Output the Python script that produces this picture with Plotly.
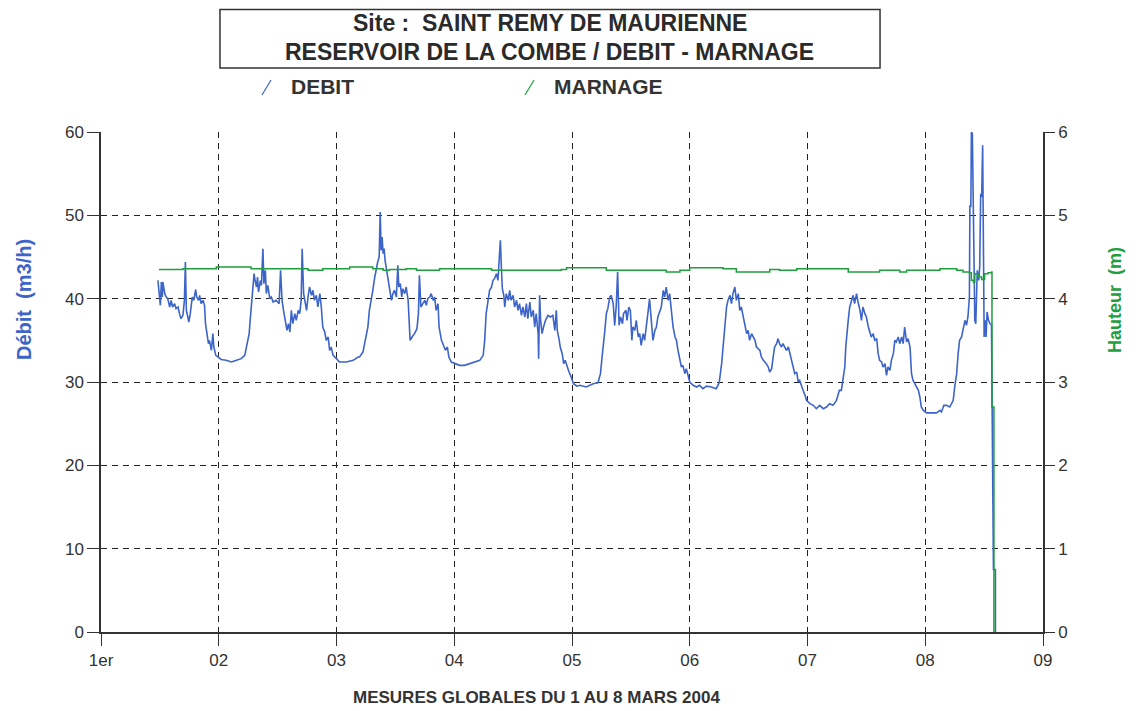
import plotly.graph_objects as go

# ---------------------------------------------------------------- data
# time in hours since 1 March 2004 00:00, debit in m3/h
h_j1 = [11.6, 11.8, 12.1, 12.3, 12.5, 12.6, 13.0, 13.3, 13.6, 14.0, 14.3, 14.6, 15.0, 15.3, 15.7, 16.0, 16.3, 16.7, 17.0, 17.2,
        17.4, 17.7, 17.9, 18.2, 18.6, 18.9, 19.3, 19.5, 19.9, 20.1, 20.4, 20.8, 21.1, 21.3, 21.6, 21.9, 22.1, 22.5, 22.8, 23.0,
        23.4, 23.8]
q_j1 = [42.2, 41.2, 39.2, 42.0, 40.2, 42.0, 40.6, 40.2, 40.0, 39.0, 39.8, 39.0, 39.4, 38.8, 39.0, 38.2, 37.6, 38.0, 39.8, 44.4,
        38.6, 37.8, 37.2, 38.2, 40.2, 39.8, 41.1, 40.2, 39.8, 40.4, 39.4, 39.8, 39.2, 37.0, 35.8, 34.6, 35.0, 33.8, 35.8, 34.2,
        33.2, 33.0]

h_j2 = [24.5, 25.5, 26.6, 27.6, 28.6, 29.3, 29.7, 30.2, 30.4, 30.7, 31.0, 31.2, 31.4, 31.7, 31.9, 32.1, 32.5, 32.7, 33.0, 33.2,
        33.5, 33.7, 34.0, 34.4, 34.7, 35.1, 35.7, 36.3, 36.6, 36.9, 37.2, 37.6, 37.9, 38.2, 38.5, 38.8, 39.1, 39.5, 39.8, 40.2,
        40.5, 40.8, 41.0, 41.3, 41.6, 41.9, 42.2, 42.5, 42.9, 43.2, 43.5, 43.9, 44.2, 44.6, 44.9, 45.2, 45.6, 45.9, 46.3, 46.6,
        46.9, 47.3]
q_j2 = [32.7, 32.6, 32.4, 32.6, 32.8, 33.2, 34.2, 35.8, 37.4, 39.8, 41.4, 43.0, 42.2, 41.4, 42.6, 40.8, 42.2, 41.6, 46.0, 41.8,
        43.4, 40.6, 41.6, 40.0, 40.2, 39.6, 39.8, 39.4, 43.4, 39.8, 38.6, 37.4, 36.2, 37.0, 36.0, 38.6, 37.0, 38.2, 37.4, 38.6,
        38.2, 39.8, 46.0, 40.6, 39.8, 38.6, 40.2, 41.4, 40.4, 41.0, 39.8, 40.4, 39.0, 40.6, 39.0, 36.6, 36.0, 35.0, 35.4, 33.8,
        34.2, 33.2]

h_j3 = [48.0, 48.6, 50.0, 51.4, 52.4, 52.7, 53.4, 53.9, 54.4, 54.7, 55.1, 55.4, 55.8, 56.1, 56.4, 56.7, 56.9, 57.1, 57.3, 57.5,
        57.7, 57.9, 58.1, 58.5, 58.8, 59.2, 59.5, 59.8, 60.2, 60.5, 60.7, 61.0, 61.3, 61.5, 61.9, 62.2, 62.6, 62.8, 63.0, 63.4,
        63.9, 64.4, 64.7, 64.9, 65.2, 65.6, 66.0, 66.3, 66.6, 67.0, 67.3, 67.7, 68.0, 68.3, 68.7, 68.9, 69.4, 69.8, 70.2, 70.6,
        70.9, 71.4]
q_j3 = [32.8, 32.4, 32.4, 32.6, 33.0, 33.0, 33.6, 35.0, 36.6, 38.6, 39.8, 41.0, 42.6, 43.8, 44.4, 45.0, 50.4, 45.8, 47.4, 45.4,
        46.0, 44.6, 43.8, 42.2, 41.4, 39.8, 40.6, 41.0, 40.2, 44.0, 41.4, 41.8, 40.2, 41.2, 40.6, 41.4, 39.8, 37.0, 35.0, 35.4,
        35.8, 36.4, 38.2, 42.8, 39.0, 39.4, 39.8, 39.2, 40.0, 40.2, 40.6, 39.8, 40.2, 38.6, 39.4, 36.6, 35.0, 34.4, 33.8, 34.2,
        33.0, 32.4]

h_j4 = [72.1, 73.1, 74.1, 75.1, 76.2, 77.2, 77.9, 78.2, 78.5, 78.9, 79.2, 79.6, 79.9, 80.2, 80.6, 80.9, 81.1, 81.4, 81.6, 81.8,
        82.1, 82.3, 82.6, 83.0, 83.3, 83.6, 84.0, 84.3, 84.7, 85.0, 85.3, 85.7, 86.0, 86.4, 86.7, 87.0, 87.4, 87.7, 88.1, 88.4,
        88.7, 89.1, 89.2, 89.4, 89.6, 89.9, 90.2, 90.6, 91.1, 91.6, 92.1, 92.5, 92.8, 93.0, 93.4, 93.6, 94.0, 94.3, 94.6, 95.0,
        95.4, 95.7]
q_j4 = [32.2, 32.0, 32.0, 32.2, 32.4, 32.6, 33.2, 35.0, 38.2, 39.8, 41.0, 41.4, 42.2, 42.4, 43.0, 42.2, 43.8, 47.0, 43.8, 41.2,
        40.4, 39.0, 40.6, 39.8, 41.0, 39.8, 40.4, 39.0, 39.8, 38.6, 39.4, 38.0, 39.0, 37.8, 39.4, 37.6, 39.6, 37.8, 38.6, 36.6,
        38.2, 35.8, 32.8, 40.4, 37.4, 35.8, 36.6, 37.4, 38.0, 37.8, 38.0, 36.2, 38.6, 36.2, 35.0, 34.2, 33.4, 32.2, 32.6, 31.8,
        31.2, 30.8]

h_j5 = [96.3, 97.0, 97.6, 98.9, 100.3, 101.3, 101.8, 102.2, 102.5, 102.7, 103.0, 103.3, 103.7, 104.0, 104.4, 104.7, 105.0,
        105.3, 105.6, 105.9, 106.3, 106.5, 107.0, 107.2, 107.6, 107.9, 108.2, 108.4, 108.8, 109.1, 109.5, 109.8, 110.1, 110.5,
        110.8, 111.2, 111.5, 111.8, 112.2, 112.5, 112.9, 113.2, 113.5, 113.9, 114.2, 114.6, 114.9, 115.2, 115.6, 115.9, 116.3,
        116.6, 117.0, 117.3, 117.6, 118.0, 118.3, 118.6, 119.0, 119.3, 119.7]
q_j5 = [29.8, 29.5, 29.6, 29.4, 29.8, 29.9, 31.0, 33.4, 35.8, 36.2, 38.2, 38.8, 40.2, 40.4, 39.4, 36.8, 39.0, 43.2, 36.8, 37.8,
        37.0, 38.2, 38.6, 37.4, 39.0, 38.6, 35.0, 36.6, 36.2, 37.4, 35.4, 35.8, 34.4, 35.8, 35.0, 36.6, 38.4, 40.0, 37.4, 35.0,
        36.2, 36.6, 37.8, 38.6, 39.0, 41.0, 40.2, 41.4, 39.8, 40.6, 38.6, 36.6, 35.4, 35.0, 33.8, 32.6, 31.8, 32.0, 31.0, 31.6,
        30.6]

h_j6 = [120.0, 120.7, 121.4, 122.0, 122.7, 123.4, 124.4, 125.4, 126.0, 126.5, 126.8, 127.1, 127.5, 127.8, 128.2, 128.5, 128.8,
        129.2, 129.5, 129.9, 130.2, 130.5, 130.9, 131.2, 131.6, 131.9, 132.2, 132.6, 132.9, 133.3, 133.6, 134.3, 134.6, 135.0,
        135.6, 136.0, 136.3, 136.7, 137.0, 137.3, 137.7, 138.0, 138.3, 138.7, 139.0, 139.4, 139.7, 140.1, 140.4, 140.7, 141.1,
        141.4, 141.8, 142.1, 142.4, 142.8, 143.1, 143.5, 143.8]
q_j6 = [30.0, 29.6, 29.4, 29.6, 29.2, 29.5, 29.4, 29.2, 29.9, 32.2, 34.2, 36.6, 39.0, 39.8, 40.4, 39.4, 40.6, 41.4, 39.8, 40.6,
        38.6, 39.0, 37.8, 36.6, 35.8, 36.2, 35.0, 35.8, 35.4, 35.0, 34.2, 33.8, 33.0, 32.6, 32.2, 31.8, 31.2, 31.6, 33.0, 34.2,
        34.6, 35.2, 34.6, 34.2, 34.6, 34.2, 33.8, 34.2, 33.4, 32.6, 31.4, 31.0, 31.2, 30.0, 30.2, 29.4, 29.0, 28.4, 27.8]

h_j7 = [144.5, 145.2, 145.8, 146.5, 147.2, 147.9, 148.5, 149.2, 149.9, 150.5, 150.9, 151.3, 151.6, 151.8, 152.1, 152.3, 152.6,
        153.0, 153.3, 153.6, 154.0, 154.3, 154.7, 155.0, 155.3, 155.7, 156.0, 156.4, 156.7, 157.0, 157.4, 157.7, 158.1, 158.4,
        158.7, 159.1, 159.4, 159.8, 160.1, 160.4, 160.8, 161.1, 161.5, 161.8, 162.1, 162.5, 162.8, 163.2, 163.5, 163.8, 164.2,
        164.5, 164.9, 165.2, 165.5, 165.9, 166.2, 166.6, 166.9, 167.2, 167.6]
q_j7 = [27.4, 27.2, 26.8, 27.2, 26.8, 27.0, 27.4, 27.2, 27.8, 29.0, 29.0, 30.6, 31.8, 34.2, 36.6, 37.4, 39.0, 39.8, 40.4, 39.4,
        40.6, 39.6, 38.6, 37.4, 39.0, 38.2, 37.8, 36.6, 35.8, 35.4, 35.8, 35.0, 35.2, 33.4, 32.6, 32.4, 31.8, 32.2, 30.8, 31.8,
        31.4, 32.6, 33.4, 35.0, 34.8, 35.4, 34.6, 35.4, 34.6, 36.6, 34.8, 35.2, 34.2, 31.0, 30.2, 29.8, 29.4, 29.0, 28.2, 27.0,
        26.6]

h_j8 = [168.3, 169.3, 170.3, 171.0, 171.3, 171.8, 172.3, 173.0, 173.4, 173.7, 174.0, 174.4, 174.7, 175.0, 175.4, 175.7, 176.1,
        176.4, 176.7, 177.0, 177.1, 177.3, 177.4, 177.6, 177.8, 178.1, 178.3, 178.6, 178.9, 179.1, 179.3, 179.5, 179.7, 179.8,
        180.0, 180.2, 180.4, 180.6, 180.9, 181.2, 181.5, 181.9, 182.3, 182.3]
q_j8 = [26.3, 26.3, 26.3, 26.6, 26.4, 27.2, 27.2, 27.0, 27.4, 27.8, 29.4, 31.0, 33.4, 35.0, 35.4, 36.2, 37.4, 36.8, 37.8, 40.2,
        51.2, 51.0, 60.0, 59.8, 49.4, 37.4, 37.0, 43.4, 42.2, 43.8, 52.6, 52.2, 58.4, 46.2, 35.4, 37.4, 35.4, 38.4, 37.4, 37.0,
        36.8, 7.5, 7.5, 0.0]

# marnage (reservoir level, m)
h_marnage = [11.8, 16.7, 22.8, 23.5, 30.3, 30.6, 40.5, 42.2, 44.6, 45.2, 49.3, 50.7, 55.4, 57.5, 58.8, 62.2, 64.3, 69.0,
             78.5, 79.6, 89.4, 93.8, 94.9, 103.0, 111.2, 115.2, 118.0, 120.0, 126.8, 129.5, 136.3, 138.3, 141.8, 150.6,
             152.3, 158.1, 158.7, 162.8, 164.2, 170.3, 171.0, 174.4, 175.7, 177.0, 177.4, 177.8, 178.1, 178.8, 179.5,
             180.1, 180.8, 181.5, 181.6, 182.0]
marnage = [4.35, 4.36, 4.36, 4.38, 4.38, 4.36, 4.36, 4.34, 4.34, 4.36, 4.36, 4.38, 4.36, 4.34, 4.35, 4.36, 4.34, 4.36,
           4.36, 4.34, 4.34, 4.35, 4.37, 4.34, 4.34, 4.32, 4.34, 4.37, 4.36, 4.32, 4.35, 4.34, 4.36, 4.36,
           4.32, 4.32, 4.34, 4.32, 4.34, 4.34, 4.36, 4.34, 4.32, 4.31, 4.22, 4.20, 4.30, 4.26, 4.23,
           4.30, 4.31, 4.32, 2.70, 0.0]

day_ticks = [0, 24, 48, 72, 96, 120, 144, 168, 192]
day_labels = ['1er', '02', '03', '04', '05', '06', '07', '08', '09']

hours_debit = h_j1 + h_j2 + h_j3 + h_j4 + h_j5 + h_j6 + h_j7 + h_j8
debit = q_j1 + q_j2 + q_j3 + q_j4 + q_j5 + q_j6 + q_j7 + q_j8

BLUE = '#3d64c8'
GREEN = '#1e9e3c'
INK = '#333333'
FONT = 'Liberation Sans, Arial'

# ---------------------------------------------------------------- figure
fig = go.Figure()
fig.add_trace(go.Scatter(x=hours_debit, y=debit, mode='lines', name='DEBIT',
                         line=dict(color=BLUE, width=1.6), yaxis='y'))
fig.add_trace(go.Scatter(x=h_marnage, y=marnage, mode='lines', name='MARNAGE',
                         line=dict(color=GREEN, width=1.5, shape='hv'), yaxis='y2'))

grid = dict(showgrid=True, gridcolor='#222222', gridwidth=1.2, griddash='6px,5px')
tickfont = dict(family=FONT, size=17, color=INK)

# page body keeps an 8px margin, so the figure is 16px smaller than the window
fig.update_layout(
    width=1128, height=703,
    margin=dict(l=93, r=93, t=124, b=79),
    paper_bgcolor='white', plot_bgcolor='white',
    showlegend=False,
    xaxis=dict(range=[0, 192], tickvals=day_ticks, ticktext=day_labels,
               ticks='outside', ticklen=12, tickcolor=INK, tickwidth=1.2,
               showline=True, linecolor=INK, linewidth=1.5, zeroline=False,
               tickfont=tickfont, **grid),
    yaxis=dict(range=[0, 60], dtick=10, ticks='outside', ticklen=12, tickcolor=INK, tickwidth=1.2,
               showline=True, linecolor=INK, linewidth=1.5, zeroline=False,
               tickfont=tickfont, **grid),
    yaxis2=dict(range=[0, 6], dtick=1, side='right', overlaying='y', showgrid=False,
                ticks='outside', ticklen=10, tickcolor=INK, tickwidth=1.2,
                showline=True, linecolor=INK, linewidth=1.5, zeroline=False,
                tickfont=tickfont),
)

# title box
fig.add_shape(type='rect', xref='paper', yref='paper', x0=0.1263, x1=0.827, y0=1.128, y1=1.245,
              line=dict(color=INK, width=1.5), fillcolor='white')
fig.add_annotation(text='<b>Site :  SAINT REMY DE MAURIENNE</b>', xref='paper', yref='paper', x=0.4766, y=1.218,
                   showarrow=False, font=dict(family=FONT, size=23, color='#2a2a2a'),
                   xanchor='center', yanchor='middle')
fig.add_annotation(text='<b>RESERVOIR DE LA COMBE / DEBIT - MARNAGE</b>', xref='paper', yref='paper',
                   x=0.4766, y=1.159, showarrow=False, font=dict(family=FONT, size=23, color='#2a2a2a'),
                   xanchor='center', yanchor='middle')

# legend (slash symbols like the original)
for x0, col, label in [(0.1709, BLUE, 'DEBIT'), (0.4501, GREEN, 'MARNAGE')]:
    fig.add_shape(type='line', xref='paper', yref='paper', x0=x0, x1=x0 + 0.0096, y0=1.074, y1=1.104,
                  line=dict(color=col, width=1.2))
    fig.add_annotation(text='<b>' + label + '</b>', xref='paper', yref='paper', x=x0 + 0.0285, y=1.09,
                       showarrow=False, xanchor='left', yanchor='middle',
                       font=dict(family=FONT, size=21, color=INK))

# axis titles
fig.add_annotation(text='<b>Débit  (m3/h)</b>', xref='paper', yref='paper', x=-0.0817, y=0.664, textangle=-90,
                   showarrow=False, xanchor='center', yanchor='middle',
                   font=dict(family=FONT, size=20, color=BLUE))
fig.add_annotation(text='<b>Hauteur  (m)</b>', xref='paper', yref='paper', x=1.0764, y=0.664, textangle=-90,
                   showarrow=False, xanchor='center', yanchor='middle',
                   font=dict(family=FONT, size=18, color=GREEN))
fig.add_annotation(text='<b>MESURES GLOBALES DU 1 AU 8 MARS 2004</b>', xref='paper', yref='paper',
                   x=0.4628, y=-0.13, showarrow=False, xanchor='center', yanchor='middle',
                   font=dict(family=FONT, size=17, color=INK))

fig.write_html("out.html")
